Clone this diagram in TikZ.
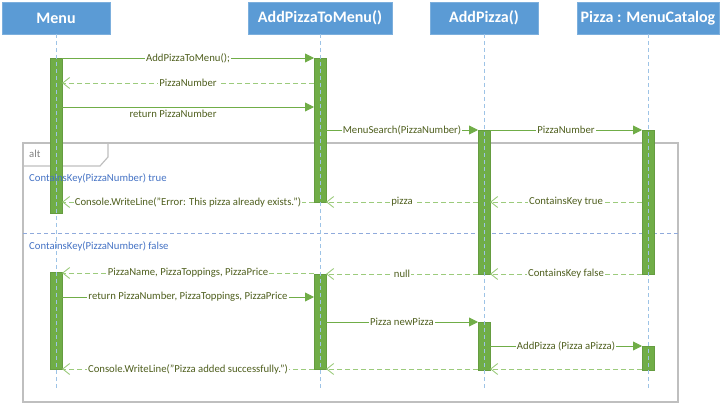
\documentclass[tikz,border=0pt]{standalone}
\usepackage{fontspec}
\setmainfont{Carlito}
\usetikzlibrary{arrows.meta}
\definecolor{headblue}{HTML}{5B9BD5}
\definecolor{lifeblue}{HTML}{9DC3E6}
\definecolor{actgreen}{HTML}{70AD47}
\definecolor{retgreen}{HTML}{9CCB7C}
\definecolor{labtext}{HTML}{4F5F1E}
\definecolor{guardblue}{HTML}{4472C4}
\definecolor{framegray}{HTML}{BFBFBF}
\definecolor{divblue}{HTML}{8FAADC}
\tikzset{
  head/.style={fill=headblue, draw=headblue!80!white, text=white, font=\fontsize{16}{18}\selectfont\bfseries, minimum height=32pt, inner sep=0pt, outer sep=0pt},
  life/.style={draw=lifeblue, dashed, dash pattern=on 4pt off 3pt, line width=0.8pt},
  actbox/.style={fill=actgreen, draw=actgreen!90!black, line width=0.3pt, minimum width=12pt, inner sep=0pt, outer sep=0pt, anchor=north},
  callmsg/.style={draw=actgreen, line width=0.9pt, -{Triangle[width=9pt,length=9pt]}},
  retmsg/.style={draw=retgreen, line width=0.9pt, dash pattern=on 5pt off 3pt, -{Straight Barb[width=11pt,length=7pt]}},
  lab/.style={fill=white, text=labtext, font=\fontsize{10.7}{12}\selectfont, inner sep=1pt},
  labnobg/.style={text=labtext, font=\fontsize{10.7}{12}\selectfont, inner sep=1pt},
  guard/.style={text=guardblue, font=\fontsize{10.7}{12}\selectfont, inner sep=0pt, anchor=west},
}
\begin{document}
\begin{tikzpicture}[x=1pt,y=-1pt]
\useasboundingbox (0,0) rectangle (724,404);
% alt frame
\draw[framegray, line width=1.2pt] (23,143) rectangle (678,402);
\draw[framegray, line width=1.2pt] (23,166) -- (100,166) -- (108,157) -- (108,143);
\draw[divblue, line width=0.9pt, dash pattern=on 4pt off 3pt] (23,233) -- (678,233);
% heads
\node[head, minimum width=108pt] (hMenu) at (56,18) {Menu};
\node[head, minimum width=144pt] (hAPTM) at (320,18) {AddPizzaToMenu()};
\node[head, minimum width=108pt] (hAP) at (484,18) {AddPizza()};
\node[head, minimum width=142pt] (hMC) at (648,18) {Pizza : MenuCatalog};
\coordinate (eMenu) at (56,388);
\coordinate (eAPTM) at (320,388);
\coordinate (eAP) at (484,388);
\coordinate (eMC) at (648,388);
% activations
\node[actbox, minimum height=155pt] (m1) at (56,58) {};
\node[actbox, minimum height=97pt] (m2) at (56,272) {};
\node[actbox, minimum height=144pt] (a1) at (320,58) {};
\node[actbox, minimum height=95pt] (a2) at (320,274) {};
\node[actbox, minimum height=144pt] (p1) at (484,130) {};
\node[actbox, minimum height=48pt] (p2) at (484,322) {};
\node[actbox, minimum height=144pt] (c1) at (648,130) {};
\node[actbox, minimum height=24pt] (c2) at (648,346) {};
% lifelines
\draw[life] (hMenu.south) -- (eMenu);
\draw[life] (hAPTM.south) -- (eAPTM);
\draw[life] (hAP.south) -- (eAP);
\draw[life] (hMC.south) -- (eMC);
% frame texts
\node[text=gray, font=\fontsize{10.7}{12}\selectfont, anchor=west, inner sep=0pt] (altlab) at (29,154) {alt};
\node[guard] (g1) at (29,178) {ContainsKey(PizzaNumber) true};
\node[guard] (g2) at (29,246) {ContainsKey(PizzaNumber) false};
% messages
\draw[callmsg] (m1.east |- 0,58) -- node[lab] {AddPizzaToMenu();} (a1.west |- 0,58);
\draw[retmsg] (a1.west |- 0,83) -- node[lab] {PizzaNumber} (m1.east |- 0,83);
\draw[callmsg] (m1.east |- 0,107) -- (a1.west |- 0,107);
\node[labnobg] (l3) at (173,114) {return PizzaNumber};
\draw[callmsg] (a1.east |- 0,130) -- node[lab] {MenuSearch(PizzaNumber)} (p1.west |- 0,130);
\draw[callmsg] (p1.east |- 0,130) -- node[lab] {PizzaNumber} (c1.west |- 0,130);
\draw[retmsg] (c1.west |- 0,202) -- node[lab] {ContainsKey true} (p1.east |- 0,202);
\draw[retmsg] (p1.west |- 0,202) -- node[lab] {pizza} (a1.east |- 0,202);
\draw[retmsg] (a1.west |- 0,202) -- node[lab] {Console.WriteLine("Error: This pizza already exists.")} (m1.east |- 0,202);
\draw[retmsg] (c1.west |- 0,274) -- node[lab] {ContainsKey false} (p1.east |- 0,274);
\draw[retmsg] (p1.west |- 0,274) -- node[lab] {null} (a2.east |- 0,274);
\draw[retmsg] (a2.west |- 0,273) -- node[lab] {PizzaName, PizzaToppings, PizzaPrice} (m2.east |- 0,273);
\draw[callmsg] (m2.east |- 0,297) -- node[lab] {return PizzaNumber, PizzaToppings, PizzaPrice} (a2.west |- 0,297);
\draw[callmsg] (a2.east |- 0,322) -- node[lab] {Pizza newPizza} (p2.west |- 0,322);
\draw[callmsg] (p2.east |- 0,346) -- node[lab] {AddPizza (Pizza aPizza)} (c2.west |- 0,346);
\draw[retmsg] (c2.west |- 0,369) -- (p2.east |- 0,369);
\draw[retmsg] (p2.west |- 0,369) -- (a2.east |- 0,369);
\draw[retmsg] (a2.west |- 0,369) -- node[lab] {Console.WriteLine("Pizza added successfully.")} (m2.east |- 0,369);
\end{tikzpicture}
\end{document}
